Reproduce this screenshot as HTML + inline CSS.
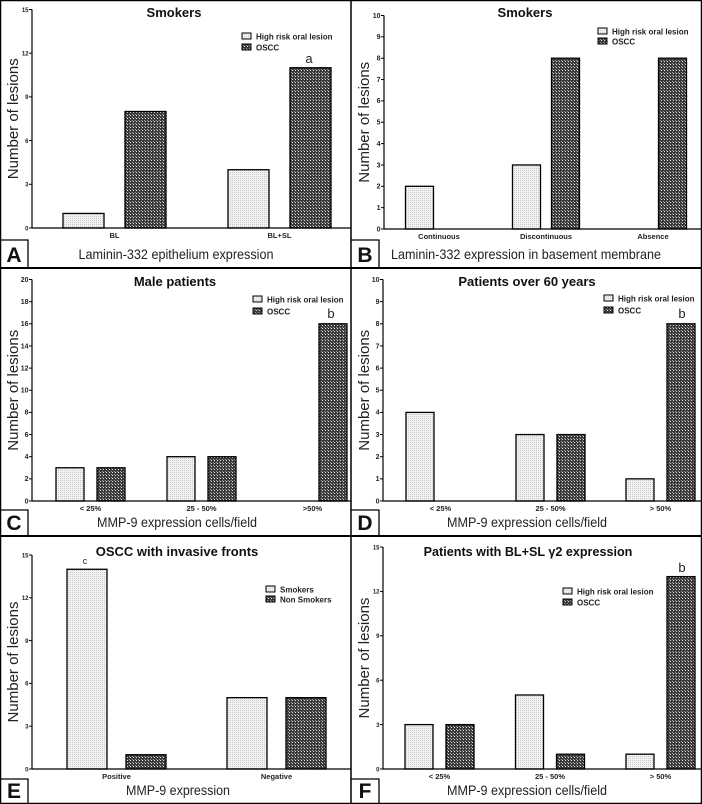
<!DOCTYPE html>
<html><head><meta charset="utf-8"><style>
html,body{margin:0;padding:0;background:#fff}
svg{display:block;font-family:"Liberation Sans",Arial,sans-serif}
</style></head><body>
<svg id="fig" width="702" height="804" viewBox="0 0 702 804">
<defs>
<pattern id="pLight" width="2" height="2" patternUnits="userSpaceOnUse"><rect width="2" height="2" fill="#f2f2f2"/><rect width="1" height="1" fill="#c8c8c8"/></pattern>
<pattern id="pDark" width="3" height="3" patternUnits="userSpaceOnUse"><rect width="3" height="3" fill="#3a3a3a"/><rect x="1" y="1" width="1" height="1" fill="#e0e0e0"/><rect x="0" y="0" width="1" height="1" fill="#9a9a9a"/></pattern>
</defs>
<rect x="0.5" y="0.5" width="701" height="803" fill="#fff" stroke="#000" stroke-width="1.5"/>
<line x1="351" y1="0" x2="351" y2="804" stroke="#000" stroke-width="1.5"/>
<line x1="0" y1="268" x2="702" y2="268" stroke="#000" stroke-width="2"/>
<line x1="0" y1="536" x2="702" y2="536" stroke="#000" stroke-width="2"/>
</svg>
<script>
// Panel A
const catsA = ["BL", "BL+SL"];
const riskA = [1, 4];
const osccA = [8, 11];
const ticksA = [0, 3, 6, 9, 12, 15];
// Panel B
const catsB = ["Continuous", "Discontinuous", "Absence"];
const riskB = [2, 3, 0];
const osccB = [0, 8, 8];
const ticksB = [0,1,2,3,4,5,6,7,8,9,10];
// Panel C
const catsC = ["< 25%", "25 - 50%", ">50%"];
const riskC = [3, 4, 0];
const osccC = [3, 4, 16];
const ticksC = [0,2,4,6,8,10,12,14,16,18,20];
// Panel D
const catsD = ["< 25%", "25 - 50%", "> 50%"];
const riskD = [4, 3, 1];
const osccD = [0, 3, 8];
const ticksD = [0,1,2,3,4,5,6,7,8,9,10];
// Panel E
const catsE = ["Positive", "Negative"];
const smokersE = [14, 5];
const nonSmokersE = [1, 5];
const ticksE = [0, 3, 6, 9, 12, 15];
// Panel F
const catsF = ["< 25%", "25 - 50%", "> 50%"];
const riskF = [3, 5, 1];
const osccF = [3, 1, 13];
const ticksF = [0, 3, 6, 9, 12, 15];

const NS = "http://www.w3.org/2000/svg";
const svg = document.getElementById("fig");
function mk(tag, attrs, parent, text){
  const e = document.createElementNS(NS, tag);
  for (const k in attrs) e.setAttribute(k, attrs[k]);
  if (text !== undefined) e.textContent = text;
  (parent || svg).appendChild(e);
  return e;
}

function panel(cfg){
  const g = mk("g", {});
  
  
  const ax = cfg.ax, y0 = cfg.y0, yTop = cfg.yTop;
  const ymax = cfg.ticks[cfg.ticks.length-1];
  const ys = v => y0 - (v / ymax) * (y0 - yTop);
  const xc = i => cfg.first + i * cfg.step;
  const yl = mk("line", {x1:ax, y1:y0, x2:ax, y2:yTop, stroke:"#000", "stroke-width":1.2}, g);
  
  
  cfg.ticks.forEach(t => {
    mk("line", {x1:ax-3, y1:ys(t), x2:ax, y2:ys(t), stroke:"#000", "stroke-width":1}, g);
    const tl = mk("text", {x:ax-3.5, y:ys(t)+2.3, "font-size":cfg.tickFs, "font-weight":"bold", "text-anchor":"end", fill:"#222"}, g, String(t));
    
    
  });
  cfg.cats.forEach((c, i) => {
    const s1 = cfg.s1[i], s2 = cfg.s2[i];
    [[s1, -1, "url(#pLight)", "bar-" + cfg.n1], [s2, 1, "url(#pDark)", "bar-" + cfg.n2]].forEach(([v, side, fill, nm]) => {
      if (v <= 0) return;
      const x = xc(i) + side * cfg.off - cfg.bw/2;
      const r = mk("rect", {x:x, y:ys(v), width:cfg.bw, height:y0 - ys(v), fill:fill, stroke:"#000", "stroke-width":1.3}, g);
      
      
    });
    const cl = mk("text", {x:xc(i), y:y0+10, "font-size":7.5, "font-weight":"bold", "text-anchor":"middle", fill:"#222"}, g, c);
    
    
  });
  const xl = mk("line", {x1:ax, y1:y0, x2:cfg.right, y2:y0, stroke:"#000", "stroke-width":1.2}, g);
  
  
  const ym = (y0 + yTop) / 2;
  const yt = mk("text", {x:cfg.px+18, y:ym, "font-size":15, "text-anchor":"middle", fill:"#222", transform:"rotate(-90 "+(cfg.px+18)+" "+ym+")"}, g, "Number of lesions");
  
  
  const ti = mk("text", {x:cfg.titleX, y:cfg.titleY, "font-size":cfg.titleFs || 13, "font-weight":"bold", "text-anchor":"middle", fill:"#111"}, g, cfg.title);
  
  
  [[cfg.l1, "url(#pLight)", 0], [cfg.l2, "url(#pDark)", 1]].forEach(([txt, fill, k]) => {
    const ly = cfg.legY + k * cfg.legGap;
    const lb = mk("rect", {x:cfg.legX, y:ly-4, width:9, height:6, fill:fill, stroke:"#000", "stroke-width":1}, g);
    
    
    const lt = mk("text", {x:cfg.legX+14, y:ly+2.5, "font-size":8, "font-weight":"bold", fill:"#222"}, g, txt);
    
    
  });
  if (cfg.mark){
    const mt = mk("text", {x:cfg.mark[0], y:cfg.mark[1], "font-size":cfg.mark[3] || 13, "text-anchor":"middle", fill:"#222"}, g, cfg.mark[2]);
    
    
  }
  const bx = mk("path", {d:"M"+cfg.px+" "+cfg.boxTop+" H"+(cfg.px+28)+" V"+cfg.boxBot, fill:"none", stroke:"#000", "stroke-width":1.3}, g);
  
  
  const lt = mk("text", {x:cfg.px+14, y:cfg.boxBot-6, "font-size":21, "font-weight":"bold", "text-anchor":"middle", fill:"#111"}, g, cfg.letter);
  
  
  const xt = mk("text", {x:cfg.xtX, y:cfg.boxBot-9, "font-size":14, "text-anchor":"middle", fill:"#222", textLength:cfg.xtW, lengthAdjust:"spacingAndGlyphs"}, g, cfg.xtitle);
  
  
}

const HR = "High risk oral lesion";
panel({letter:"A", px:0, ax:32, right:351, y0:228, yTop:9.5, ticks:ticksA, tickFs:6, cats:catsA, s1:riskA, s2:osccA,
  first:114.5, step:165, bw:41, off:31, n1:"high-risk", n2:"oscc", title:"Smokers", titleX:174, titleY:17,
  l1:HR, l2:"OSCC", legX:242, legY:37, legGap:11, mark:[309,63,"a"], boxTop:240, boxBot:268, xtX:176, xtW:195, xtitle:"Laminin-332 epithelium expression"});
panel({letter:"B", px:351, ax:384, right:702, y0:229, yTop:15.5, ticks:ticksB, tickFs:7, cats:catsB, s1:riskB, s2:osccB,
  first:439, step:107, bw:28, off:19.5, n1:"high-risk", n2:"oscc", title:"Smokers", titleX:525, titleY:17,
  l1:HR, l2:"OSCC", legX:598, legY:32, legGap:10, boxTop:240, boxBot:268, xtX:526, xtW:270, xtitle:"Laminin-332 expression in basement membrane"});
panel({letter:"C", px:0, ax:32, right:351, y0:501, yTop:279.5, ticks:ticksC, tickFs:7, cats:catsC, s1:riskC, s2:osccC,
  first:90.5, step:111, bw:28, off:20.5, n1:"high-risk", n2:"oscc", title:"Male patients", titleX:175, titleY:286,
  l1:HR, l2:"OSCC", legX:253, legY:300, legGap:12, mark:[331,318,"b"], boxTop:510, boxBot:536, xtX:177, xtW:160, xtitle:"MMP-9 expression cells/field"});
panel({letter:"D", px:351, ax:383, right:702, y0:501, yTop:279.5, ticks:ticksD, tickFs:7, cats:catsD, s1:riskD, s2:osccD,
  first:440.5, step:110, bw:28, off:20.5, n1:"high-risk", n2:"oscc", title:"Patients over 60 years", titleX:527, titleY:286,
  l1:HR, l2:"OSCC", legX:604, legY:299, legGap:12, mark:[682,318,"b"], boxTop:510, boxBot:536, xtX:527, xtW:160, xtitle:"MMP-9 expression cells/field"});
panel({letter:"E", px:0, ax:32, right:351, y0:769, yTop:555, ticks:ticksE, tickFs:6, cats:catsE, s1:smokersE, s2:nonSmokersE,
  first:116.5, step:160, bw:40, off:29.5, n1:"smokers", n2:"non-smokers", title:"OSCC with invasive fronts", titleX:177, titleY:556,
  l1:"Smokers", l2:"Non Smokers", legX:266, legY:590, legGap:10, mark:[85,564,"c",9], boxTop:779, boxBot:804, xtX:178, xtW:104, xtitle:"MMP-9 expression"});
panel({letter:"F", px:351, ax:383, right:702, y0:769, yTop:547, ticks:ticksF, tickFs:6, cats:catsF, s1:riskF, s2:osccF,
  first:439.5, step:110.5, bw:28, off:20.5, n1:"high-risk", n2:"oscc", title:"Patients with BL+SL \u03B32 expression", titleFs:12.6, titleX:528, titleY:556,
  l1:HR, l2:"OSCC", legX:563, legY:592, legGap:11, mark:[682,572,"b"], boxTop:779, boxBot:804, xtX:527, xtW:160, xtitle:"MMP-9 expression cells/field"});
</script>
</body></html>
